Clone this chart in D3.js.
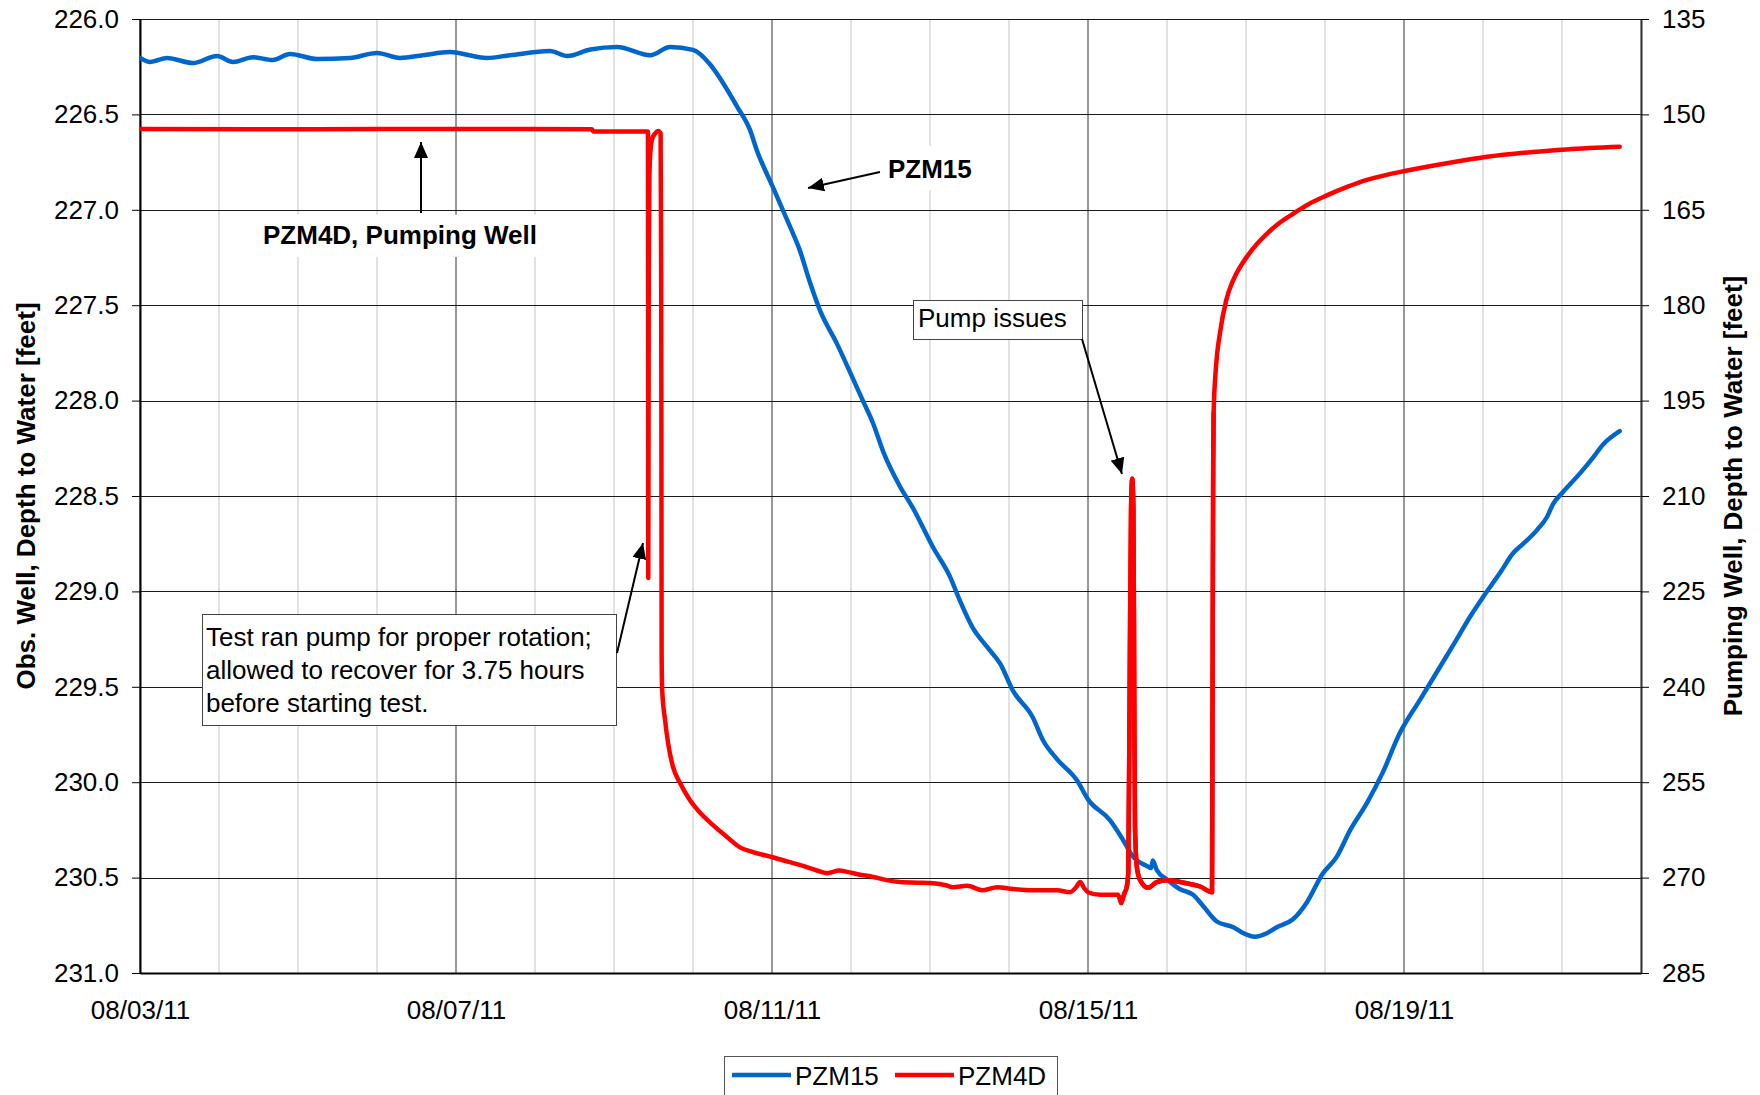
<!DOCTYPE html>
<html>
<head>
<meta charset="utf-8">
<script src="https://cdn.jsdelivr.net/npm/d3@7"></script>
<style>
  html, body { margin: 0; padding: 0; background: #fff; }
  svg { display: block; }
  text { font-family: "Liberation Sans", Arial, sans-serif; fill: #000; }
</style>
</head>
<body>
<svg id="chart" width="1760" height="1095"></svg>
<script>
// ---- Time axis -------------------------------------------------------------
const startLabel = "08/03/11";
const endLabel = "08/22/11";
const dateTickLabels = ["08/03/11", "08/07/11", "08/11/11", "08/15/11", "08/19/11"];

// ---- Depth axes ------------------------------------------------------------
const obsTicks = [226.0, 226.5, 227.0, 227.5, 228.0, 228.5, 229.0, 229.5, 230.0, 230.5, 231.0];
const pumpTicks = [135, 150, 165, 180, 195, 210, 225, 240, 255, 270, 285];

// ---- PZM15 observation well (elapsed days since 08/03/11, depth to water ft)
const pzm15Days = [
  0, 0.127, 0.342, 0.671, 0.975, 1.177, 1.43, 1.68, 1.90, 2.24, 2.66, 3.0, 3.29, 3.58, 3.92,
  4.39, 4.68, 5.19, 5.41, 5.70, 6.04, 6.46, 6.71, 7.0, 7.22, 7.38, 7.56, 7.72, 7.81, 8.01,
  8.23, 8.35, 8.48, 8.61, 8.82, 9.03, 9.15, 9.28, 9.41, 9.62, 9.78, 10.04, 10.25, 10.38, 10.54,
  10.72, 10.89, 11.05, 11.30, 11.43, 11.61, 11.86, 12.0, 12.28, 12.44, 12.57, 12.75, 12.80, 12.82,
  12.87, 13.0, 13.16, 13.33, 13.46, 13.63, 13.84, 13.96, 14.11, 14.27, 14.39, 14.59, 14.77, 14.97,
  15.15, 15.32, 15.53, 15.73, 15.95, 16.2, 16.42, 16.64, 16.84, 17.0, 17.22, 17.38, 17.51, 17.68,
  17.81, 17.89, 18.01, 18.23, 18.39, 18.52, 18.73
];
const pzm15Depth = [
  226.204, 226.225, 226.204, 226.231, 226.194, 226.225, 226.200, 226.215, 226.183, 226.210, 226.204, 226.178, 226.204, 226.190, 226.173,
  226.204, 226.190, 226.168, 226.194, 226.160, 226.147, 226.190, 226.147, 226.162, 226.240, 226.335, 226.460, 226.580, 226.690, 226.880,
  227.09, 227.21, 227.38, 227.53, 227.70, 227.89, 228.00, 228.12, 228.27, 228.45, 228.56, 228.77, 228.92, 229.05, 229.19,
  229.29, 229.38, 229.52, 229.66, 229.78, 229.88, 229.99, 230.09, 230.20, 230.30, 230.39, 230.44, 230.45, 230.41,
  230.46, 230.51, 230.56, 230.59, 230.65, 230.73, 230.76, 230.79, 230.81, 230.79, 230.76, 230.72, 230.63, 230.48,
  230.39, 230.25, 230.11, 229.95, 229.74, 229.57, 229.42, 229.27, 229.13, 229.03, 228.90, 228.80, 228.75, 228.68,
  228.61, 228.54, 228.48, 228.38, 228.30, 228.23, 228.16
];

// ---- PZM4D pumping well (elapsed days since 08/03/11, depth to water ft) --
const pzm4dDays = [
  0, 1.5, 3.0, 4.5, 5.72, 5.74, 6.43, 6.434, 6.44, 6.448, 6.46, 6.48, 6.52, 6.56, 6.59,
  6.597, 6.600, 6.603, 6.61, 6.646, 6.684, 6.747, 6.835, 6.96, 7.09, 7.25, 7.43, 7.59, 7.76,
  8.01, 8.2, 8.35, 8.55, 8.70, 8.85, 8.95, 9.1, 9.28, 9.45, 9.62, 9.85, 10.04, 10.2, 10.29,
  10.47, 10.67, 10.85, 11.05, 11.30, 11.61, 11.77, 11.85, 11.90, 11.95, 12.0, 12.15, 12.38, 12.42,
  12.46, 12.49, 12.51, 12.53, 12.545, 12.56, 12.575, 12.585, 12.595, 12.62, 12.66, 12.76, 12.87,
  13.0, 13.25, 13.42, 13.57, 13.575, 13.58, 13.585, 13.59, 13.62, 13.67, 13.75, 13.84, 13.93,
  14.01, 14.13, 14.27, 14.43, 14.60, 14.78, 15.03, 15.28, 15.53, 15.78, 16.01, 16.58, 17.03,
  17.63, 18.06, 18.73
];
const pzm4dDepth = [
  152.3, 152.35, 152.3, 152.3, 152.35, 152.7, 152.7, 222.9, 175, 160, 156, 154, 153, 152.6, 153.0,
  175, 200, 235, 240.5, 245.2, 248.8, 252.6, 255.1, 257.8, 259.8, 261.7, 263.6, 265.2, 266.0,
  266.8, 267.5, 268.0, 268.8, 269.3, 268.9, 269.1, 269.5, 269.9, 270.4, 270.7, 270.8, 270.9, 271.2, 271.5,
  271.3, 272.0, 271.5, 271.8, 272.0, 272.0, 272.3, 271.5, 270.7, 271.6, 272.3, 272.7, 272.7, 274.0,
  272.5, 271.5, 269.3, 235, 212, 207.3, 212, 240, 262, 268.5, 270.4, 271.6, 270.7,
  270.4, 270.9, 271.4, 272.3, 250, 225, 205, 197, 189.7, 184.4, 179.2, 176.0, 173.9,
  172.4, 170.5, 168.7, 167.0, 165.6, 164.2, 162.7, 161.4, 160.3, 159.5, 158.9, 157.6, 156.7,
  155.9, 155.5, 155.1
];

const seriesNames = ["PZM15", "PZM4D"];
const seriesColors = ["#0066CC", "#FF0000"];

// ---- Layout ----------------------------------------------------------------
const W = 1760, H = 1095;
const plot = { left: 140, right: 1641, top: 19, bottom: 973 };
const fontSize = 26;

const parseDate = d3.utcParse("%m/%d/%y");
const t0 = parseDate(startLabel);
const t1 = parseDate(endLabel);
const dayMs = 86400000;
const toDate = d => new Date(t0.getTime() + d * dayMs);

const x = d3.scaleUtc().domain([t0, t1]).range([plot.left, plot.right]);
const yObs = d3.scaleLinear().domain([226, 231]).range([plot.top, plot.bottom]);
const yPump = d3.scaleLinear().domain([135, 285]).range([plot.top, plot.bottom]);

const px = d => x(toDate(d));

const svg = d3.select("#chart");
svg.append("rect").attr("width", W).attr("height", H).attr("fill", "#fff");

const defs = svg.append("defs");
defs.append("clipPath").attr("id", "plotClip")
  .append("rect")
  .attr("x", plot.left).attr("y", plot.top - 4)
  .attr("width", plot.right - plot.left).attr("height", plot.bottom - plot.top + 4);
defs.append("marker")
  .attr("id", "arrowHead")
  .attr("viewBox", "0 0 16 14")
  .attr("refX", 16).attr("refY", 7)
  .attr("markerWidth", 16).attr("markerHeight", 14)
  .attr("markerUnits", "userSpaceOnUse")
  .attr("orient", "auto")
  .append("path").attr("d", "M0,0 L16,7 L0,14 Z").attr("fill", "#000");

// ---- Grid ------------------------------------------------------------------
const grid = svg.append("g");
const majorDates = dateTickLabels.map(parseDate);
const majorSet = new Set(majorDates.map(d => +d));
const allDays = d3.utcDay.range(t0, d3.utcDay.offset(t1, 1));

grid.selectAll("line.minor")
  .data(allDays.filter(d => !majorSet.has(+d)))
  .join("line")
  .attr("x1", d => x(d)).attr("x2", d => x(d))
  .attr("y1", plot.top).attr("y2", plot.bottom)
  .attr("stroke", "#c4c4c4").attr("stroke-width", 1);

grid.selectAll("line.major")
  .data(majorDates)
  .join("line")
  .attr("x1", d => x(d)).attr("x2", d => x(d))
  .attr("y1", plot.top).attr("y2", plot.bottom)
  .attr("stroke", "#333").attr("stroke-width", 1);

grid.selectAll("line.h")
  .data(obsTicks)
  .join("line")
  .attr("x1", plot.left).attr("x2", plot.right)
  .attr("y1", d => Math.round(yObs(d)) + 0.5).attr("y2", d => Math.round(yObs(d)) + 0.5)
  .attr("stroke", "#1a1a1a").attr("stroke-width", 1);

// ---- Label backgrounds (blank out grid behind callout text) ----------------
const labelBg = svg.append("g");
function whiteBox(d0, d1, v0, v1) {
  labelBg.append("rect")
    .attr("x", px(d0)).attr("y", yObs(v0))
    .attr("width", px(d1) - px(d0)).attr("height", yObs(v1) - yObs(v0))
    .attr("fill", "#fff");
}
whiteBox(1.456, 5.19, 227.025, 227.247);
whiteBox(9.367, 10.633, 226.666, 226.896);

// ---- Axes ------------------------------------------------------------------
function styleAxis(g, domainColor) {
  g.selectAll("text").attr("font-size", fontSize).attr("font-family", '"Liberation Sans", Arial, sans-serif').attr("fill", "#000");
  g.selectAll(".tick line").attr("stroke", "#000");
  g.select(".domain").attr("stroke", domainColor).attr("stroke-width", 2);
}

const gx = svg.append("g")
  .attr("transform", `translate(0,${plot.bottom})`)
  .call(d3.axisBottom(x).tickValues(majorDates).tickFormat(d3.utcFormat("%m/%d/%y"))
    .tickSize(0).tickPadding(28).tickSizeOuter(0));
styleAxis(gx, "#000");

const gl = svg.append("g")
  .attr("transform", `translate(${plot.left},0)`)
  .call(d3.axisLeft(yObs).tickValues(obsTicks).tickFormat(d3.format(".1f"))
    .tickSize(8).tickPadding(13).tickSizeOuter(0));
styleAxis(gl, "#000");

const gr = svg.append("g")
  .attr("transform", `translate(${plot.right},0)`)
  .call(d3.axisRight(yPump).tickValues(pumpTicks).tickFormat(d3.format("d"))
    .tickSize(8).tickPadding(13).tickSizeOuter(0));
styleAxis(gr, "#333");

// Axis titles
svg.append("text")
  .attr("transform", `translate(35,${(plot.top + plot.bottom) / 2}) rotate(-90)`)
  .attr("text-anchor", "middle")
  .attr("font-size", fontSize).attr("font-weight", "bold")
  .text("Obs. Well, Depth to Water [feet]");
svg.append("text")
  .attr("transform", `translate(1742,${(plot.top + plot.bottom) / 2}) rotate(-90)`)
  .attr("text-anchor", "middle")
  .attr("font-size", fontSize).attr("font-weight", "bold")
  .text("Pumping Well, Depth to Water [feet]");

// ---- Series ----------------------------------------------------------------
const seriesLayer = svg.append("g").attr("clip-path", "url(#plotClip)");
const obsPoints = pzm15Days.map((d, i) => [d, pzm15Depth[i]]);
const pumpPoints = pzm4dDays.map((d, i) => [d, pzm4dDepth[i]]);

const obsLine = d3.line().x(d => px(d[0])).y(d => yObs(d[1])).curve(d3.curveMonotoneX);
const pumpLine = d3.line().x(d => px(d[0])).y(d => yPump(d[1])).curve(d3.curveMonotoneX);

seriesLayer.append("path").datum(pumpPoints)
  .attr("d", pumpLine).attr("fill", "none")
  .attr("stroke", seriesColors[1]).attr("stroke-width", 4.5)
  .attr("stroke-linejoin", "round").attr("stroke-linecap", "round");
seriesLayer.append("path").datum(obsPoints)
  .attr("d", obsLine).attr("fill", "none")
  .attr("stroke", seriesColors[0]).attr("stroke-width", 4.5)
  .attr("stroke-linejoin", "round").attr("stroke-linecap", "round");
// pumping-well trace sits on top where the two cross
seriesLayer.append("path").datum(pumpPoints.filter(p => p[0] >= 12.4 && p[0] <= 13.6))
  .attr("d", pumpLine).attr("fill", "none")
  .attr("stroke", seriesColors[1]).attr("stroke-width", 4.5)
  .attr("stroke-linejoin", "round").attr("stroke-linecap", "round");

// ---- Callouts --------------------------------------------------------------
const callouts = svg.append("g");
function arrow(d0, v0, d1, v1) {
  callouts.append("line")
    .attr("x1", px(d0)).attr("y1", yObs(v0))
    .attr("x2", px(d1)).attr("y2", yObs(v1))
    .attr("stroke", "#000").attr("stroke-width", 2)
    .attr("marker-end", "url(#arrowHead)");
}
function boxed(d0, d1, v0, v1) {
  callouts.append("rect")
    .attr("x", Math.round(px(d0)) + 0.5).attr("y", Math.round(yObs(v0)) + 0.5)
    .attr("width", Math.round(px(d1) - px(d0))).attr("height", Math.round(yObs(v1) - yObs(v0)))
    .attr("fill", "#fff").attr("stroke", "#444").attr("stroke-width", 1);
}

// PZM4D pointer
callouts.append("text")
  .attr("x", px(1.557)).attr("y", yObs(227.179))
  .attr("font-size", fontSize).attr("font-weight", "bold")
  .text("PZM4D, Pumping Well");
arrow(3.557, 227.017, 3.557, 226.645);

// PZM15 pointer
callouts.append("text")
  .attr("x", px(9.468)).attr("y", yObs(226.833))
  .attr("font-size", fontSize).attr("font-weight", "bold")
  .text("PZM15");
arrow(9.367, 226.802, 8.456, 226.886);

// Pump issues
boxed(9.785, 11.924, 227.473, 227.677);
callouts.append("text")
  .attr("x", px(9.848)).attr("y", yObs(227.614))
  .attr("font-size", fontSize)
  .text("Pump issues");
arrow(11.924, 227.677, 12.430, 228.385);

// Test run note
boxed(0.785, 6.025, 229.118, 229.700);
const testLines = ["Test ran pump for proper rotation;", "allowed to recover for 3.75 hours", "before starting test."];
const testBase = [229.286, 229.459, 229.632];
testLines.forEach((s, i) => {
  callouts.append("text")
    .attr("x", px(0.835)).attr("y", yObs(testBase[i]))
    .attr("font-size", fontSize)
    .text(s);
});
arrow(6.038, 229.323, 6.367, 228.746);

// ---- Legend ----------------------------------------------------------------
const legend = svg.append("g");
legend.append("rect")
  .attr("x", 724.5).attr("y", 1056.5).attr("width", 333).attr("height", 60)
  .attr("fill", "#fff").attr("stroke", "#555").attr("stroke-width", 1);
const legendX = [732, 895];
seriesNames.forEach((name, i) => {
  legend.append("line")
    .attr("x1", legendX[i]).attr("x2", legendX[i] + 59)
    .attr("y1", 1075).attr("y2", 1075)
    .attr("stroke", seriesColors[i]).attr("stroke-width", 4.5);
  legend.append("text")
    .attr("x", legendX[i] + 63).attr("y", 1085)
    .attr("font-size", fontSize)
    .text(name);
});
</script>
</body>
</html>
